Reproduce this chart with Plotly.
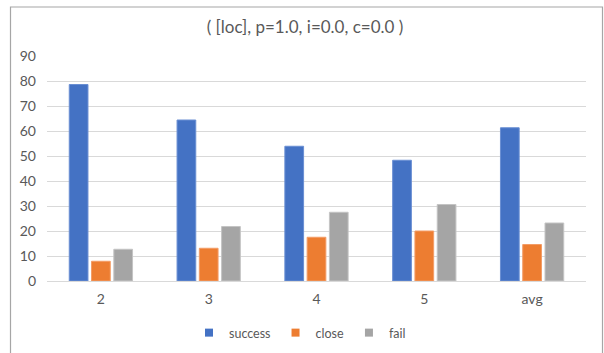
import plotly.graph_objects as go

categories = ["2", "3", "4", "5", "avg"]
success = [78.6, 64.4, 53.9, 48.3, 61.3]
close = [7.9, 13.1, 17.5, 20.0, 14.6]
fail = [12.7, 21.8, 27.5, 30.6, 23.2]
y_ticks = [0, 10, 20, 30, 40, 50, 60, 70, 80, 90]

series = [
    ("success", success, "#4472C4", "#6a8fd3"),
    ("close", close, "#ED7D31", "#f39c66"),
    ("fail", fail, "#A5A5A5", "#c4c4c4"),
]

W, H = 604, 353
L, R, T, B = 47, 18, 56, 72
pw, ph = W - L - R, H - T - B

fig = go.Figure()
for name, vals, color, edge in series:
    fig.add_trace(go.Bar(
        x=categories, y=vals, name=name, showlegend=False,
        marker=dict(color=color, line=dict(color=edge, width=1)),
    ))
    # small square legend keys
    fig.add_trace(go.Scatter(
        x=[None], y=[None], mode="markers", name=name,
        marker=dict(symbol="square", size=8, color=color),
    ))

text_color = "#595959"
font_family = "Lato, 'Open Sans', sans-serif"


def px_x(x):
    return (x - L) / pw


def px_y(y):
    return (H - B - y) / ph


# outer chart frame (its bottom edge lies below the visible area)
fig.add_shape(
    type="rect", xref="paper", yref="paper",
    x0=px_x(10.5), x1=px_x(602.5), y0=px_y(360), y1=px_y(7),
    line=dict(color="#a6a6a6", width=1.2), fillcolor="rgba(0,0,0,0)",
    layer="below",
)

fig.update_layout(
    width=W, height=H,
    margin=dict(l=L, r=R, t=T, b=B, autoexpand=False),
    paper_bgcolor="white", plot_bgcolor="white",
    barmode="group", bargap=0.38, bargroupgap=0.16,
    title=dict(
        text="( [loc], p=1.0, i=0.0, c=0.0 )",
        x=305 / W, xref="container", xanchor="center",
        y=1 - 27 / H, yanchor="middle",
        font=dict(family=font_family, size=17, color=text_color),
    ),
    font=dict(family=font_family, size=12, color=text_color),
    showlegend=True,
    legend=dict(
        orientation="h", xref="container", x=300 / W, xanchor="center",
        yref="container", y=1 - 333 / H, yanchor="middle",
        font=dict(size=12.5, color=text_color),
        itemwidth=30, tracegroupgap=0,
    ),
    xaxis=dict(
        showgrid=False, showline=True, linecolor="#D9D9D9", linewidth=1,
        ticks="", tickfont=dict(size=14, color=text_color),
        ticklabelstandoff=5, automargin=False,
    ),
    yaxis=dict(
        range=[0, 90], tickvals=y_ticks,
        showgrid=True, gridcolor="#D9D9D9", gridwidth=1,
        zeroline=False, showline=False, ticks="",
        tickfont=dict(size=14, color=text_color),
        ticklabelstandoff=10, automargin=False,
    ),
)

fig.write_html("out.html")
